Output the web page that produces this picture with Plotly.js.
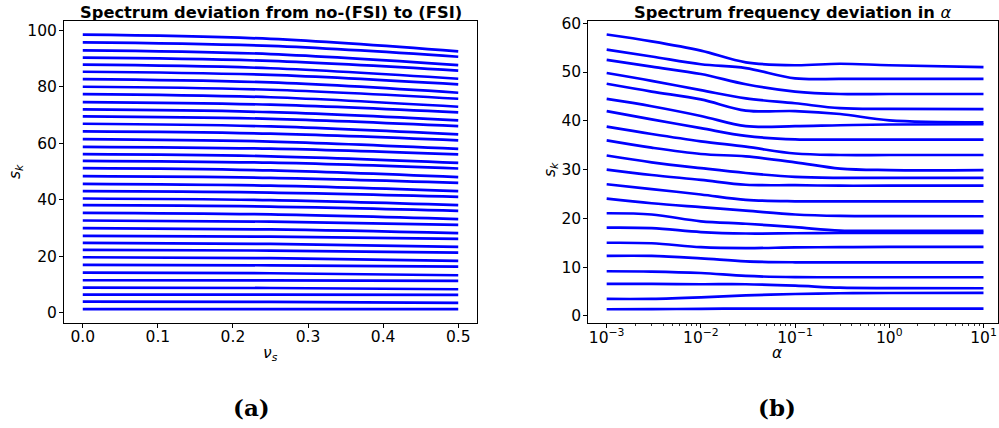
<!DOCTYPE html>
<html>
<head>
<meta charset="utf-8">
<script src="https://cdn.plot.ly/plotly-3.0.1.min.js"></script>
<style>html,body{margin:0;padding:0;background:#fff;}#chart{width:999px;height:428px;}</style>
</head>
<body>
<div id="chart"></div>
<script>
// ---------- Panel (a): spectrum vs nu_s ----------
const nuGrid = [0, 0.25, 0.5];
const leftStart = [98.45, 95.74, 92.91, 90.31, 87.83, 85.35, 82.76, 80.04, 77.45, 74.62,
  72.01, 69.54, 66.94, 64.22, 61.51, 58.79, 56.20, 53.84, 51.24, 48.41,
  45.69, 43.10, 40.50, 38.14, 35.42, 32.71, 29.99, 27.28, 24.80, 22.32,
  19.72, 17.01, 14.30, 11.58, 8.98, 6.50, 4.03, 1.37];
const leftMid = [96.97, 94.47, 91.61, 89.16, 86.59, 84.23, 81.55, 78.98, 76.33, 73.70,
  71.04, 68.68, 65.99, 63.42, 60.65, 58.11, 55.43, 53.16, 50.44, 47.82,
  45.04, 42.60, 39.91, 37.64, 34.86, 32.32, 29.55, 27.01, 24.44, 22.08,
  19.40, 16.86, 14.06, 11.52, 8.83, 6.47, 3.91, 1.37];
const leftEnd = [92.55, 90.66, 87.71, 85.71, 82.87, 80.87, 77.92, 75.79, 72.96, 70.96,
  68.12, 66.11, 63.16, 61.04, 58.08, 56.08, 53.13, 51.12, 48.05, 46.04,
  43.10, 41.09, 38.14, 36.13, 33.18, 31.17, 28.22, 26.22, 23.38, 21.38,
  18.43, 16.42, 13.35, 11.34, 8.39, 6.38, 3.55, 1.37];
const leftXTicks = [0, 0.1, 0.2, 0.3, 0.4, 0.5];
const leftXTickText = ["0.0", "0.1", "0.2", "0.3", "0.4", "0.5"];
const leftYTicks = [0, 20, 40, 60, 80, 100];

// ---------- Panel (b): spectrum vs alpha ----------
const alphaGrid = [1e-3, 3e-3, 1e-2, 3e-2, 1e-1, 3e-1, 1, 10];
const rightSeries = [
  [57.7, 56.3, 54.4, 52.0, 51.4, 51.7, 51.4, 51.0],
  [54.6, 53.2, 51.6, 50.8, 48.7, 48.6, 48.6, 48.6],
  [52.5, 51.1, 49.6, 47.5, 46.0, 45.5, 45.5, 45.5],
  [49.8, 48.2, 46.3, 44.6, 43.6, 42.6, 42.45, 42.4],
  [47.6, 46.0, 44.4, 42.1, 42.0, 41.4, 40.1, 39.7],
  [44.5, 43.0, 41.0, 38.9, 38.9, 39.1, 39.25, 39.3],
  [42.0, 40.3, 38.5, 36.9, 36.2, 36.15, 36.15, 36.15],
  [38.8, 37.3, 35.8, 34.7, 33.3, 33.0, 33.0, 33.0],
  [36.0, 34.5, 33.2, 32.7, 31.5, 30.2, 29.9, 29.9],
  [32.9, 31.5, 30.3, 29.3, 28.5, 28.3, 28.3, 28.3],
  [30.0, 28.9, 27.9, 26.9, 26.8, 26.7, 26.7, 26.7],
  [27.0, 26.0, 24.9, 23.8, 23.5, 23.5, 23.5, 23.5],
  [24.05, 23.1, 22.3, 21.6, 20.8, 20.5, 20.45, 20.44],
  [21.05, 20.8, 19.4, 18.9, 18.2, 17.5, 17.45, 17.43],
  [18.1, 18.0, 17.2, 16.9, 16.95, 17.0, 17.02, 17.02],
  [15.0, 14.9, 14.1, 13.9, 14.05, 14.1, 14.15, 14.15],
  [12.3, 12.3, 11.8, 11.2, 11.0, 11.0, 11.0, 11.0],
  [9.16, 9.1, 8.8, 8.2, 7.95, 7.93, 7.93, 7.93],
  [6.56, 6.56, 6.5, 6.5, 6.2, 5.8, 5.7, 5.67],
  [3.49, 3.5, 3.8, 4.2, 4.5, 4.65, 4.7, 4.72],
  [1.37, 1.4, 1.45, 1.5, 1.5, 1.5, 1.5, 1.5]
];
const rightXTicks = [1e-3, 1e-2, 1e-1, 1, 10];
const rightXTickText = ["10<sup>\u22123</sup>", "10<sup>\u22122</sup>", "10<sup>\u22121</sup>", "10<sup>0</sup>", "10<sup>1</sup>"];
const rightYTicks = [0, 10, 20, 30, 40, 50, 60];

const minorLog = [];
for (let e = -3; e <= 1; e++) for (let m = 2; m <= 9; m++) minorLog.push(m * Math.pow(10, e));

const BLUE = "#0000ff";
const traces = [];
for (let i = 0; i < leftStart.length; i++) {
  traces.push({
    x: nuGrid, y: [leftStart[i], leftMid[i], leftEnd[i]],
    xaxis: "x", yaxis: "y", mode: "lines",
    line: {color: BLUE, width: 2.7, shape: "spline"},
    hoverinfo: "skip", showlegend: false
  });
}
for (let i = 0; i < rightSeries.length; i++) {
  traces.push({
    x: alphaGrid, y: rightSeries[i],
    xaxis: "x2", yaxis: "y2", mode: "lines",
    line: {color: BLUE, width: 2.7, shape: "spline", smoothing: 1},
    hoverinfo: "skip", showlegend: false
  });
}

const W = 999, H = 428;
const px = v => v / W;
const py = v => 1 - v / H;
const tickFont = {family: "DejaVu Sans", size: 15.5, color: "#000"};
const axBase = {
  showline: true, mirror: true, linecolor: "#000", linewidth: 1,
  ticks: "outside", ticklen: 4, tickwidth: 1, tickcolor: "#000",
  showgrid: false, zeroline: false, tickfont: tickFont, fixedrange: true
};

const layout = {
  width: W, height: H,
  margin: {l: 0, r: 0, t: 0, b: 0},
  paper_bgcolor: "#fff", plot_bgcolor: "#fff",
  xaxis: Object.assign({}, axBase, {
    domain: [px(64), px(477)], range: [-0.025, 0.525],
    tickvals: leftXTicks, ticktext: leftXTickText, anchor: "y",
    ticklabelstandoff: -5
  }),
  yaxis: Object.assign({}, axBase, {
    domain: [py(323), py(21)], range: [-3.55, 103.3],
    tickvals: leftYTicks, anchor: "x", ticklabelstandoff: -1
  }),
  xaxis2: Object.assign({}, axBase, {
    type: "log", domain: [px(588.3), px(998)], range: [-3.195, 1.154],
    tickvals: rightXTicks, ticktext: rightXTickText, anchor: "y2",
    ticklabelstandoff: -4,
    minor: {tickvals: minorLog, ticks: "outside", ticklen: 2.2, tickwidth: 0.8, tickcolor: "#000"}
  }),
  yaxis2: Object.assign({}, axBase, {
    domain: [py(323), py(21)], range: [-1.45, 60.47],
    tickvals: rightYTicks, anchor: "x2", ticklabelstandoff: -1
  }),
  annotations: [
    {text: "<b>Spectrum deviation from no-(FSI) to (FSI)</b>", x: px(270.5), y: py(12.5),
     xref: "paper", yref: "paper", showarrow: false, xanchor: "center", yanchor: "middle",
     font: {family: "DejaVu Sans", size: 16.3, color: "#000"}},
    {text: "<b>Spectrum frequency deviation in </b><i>\u03b1</i>", x: px(793), y: py(12.5),
     xref: "paper", yref: "paper", showarrow: false, xanchor: "center", yanchor: "middle",
     font: {family: "DejaVu Sans", size: 16.3, color: "#000"}},
    {text: "<i>\u03bd<sub>s</sub></i>", x: px(270.5), y: py(354),
     xref: "paper", yref: "paper", showarrow: false, xanchor: "center", yanchor: "middle",
     font: {family: "DejaVu Sans", size: 15.5, color: "#000"}},
    {text: "<i>\u03b1</i>", x: px(777), y: py(353),
     xref: "paper", yref: "paper", showarrow: false, xanchor: "center", yanchor: "middle",
     font: {family: "DejaVu Sans", size: 15.5, color: "#000"}},
    {text: "<i>s<sub>k</sub></i>", x: px(16), y: py(172), textangle: -90,
     xref: "paper", yref: "paper", showarrow: false, xanchor: "center", yanchor: "middle",
     font: {family: "DejaVu Sans", size: 15.5, color: "#000"}},
    {text: "<i>s<sub>k</sub></i>", x: px(551), y: py(170), textangle: -90,
     xref: "paper", yref: "paper", showarrow: false, xanchor: "center", yanchor: "middle",
     font: {family: "DejaVu Sans", size: 15.5, color: "#000"}},
    {text: "<b>(a)</b>", x: px(251), y: py(407),
     xref: "paper", yref: "paper", showarrow: false, xanchor: "center", yanchor: "middle",
     font: {family: "DejaVu Serif", size: 23, color: "#000"}},
    {text: "<b>(b)</b>", x: px(777), y: py(407),
     xref: "paper", yref: "paper", showarrow: false, xanchor: "center", yanchor: "middle",
     font: {family: "DejaVu Serif", size: 23, color: "#000"}}
  ]
};

Plotly.newPlot("chart", traces, layout, {staticPlot: true, displayModeBar: false});
</script>
</body>
</html>
